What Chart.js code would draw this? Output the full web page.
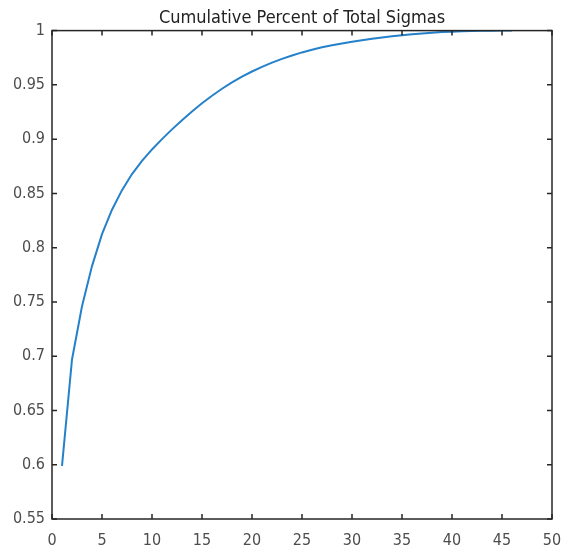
<!DOCTYPE html>
<html>
<head>
<meta charset="utf-8">
<title>Cumulative Percent of Total Sigmas</title>
<script src="https://cdn.jsdelivr.net/npm/chart.js@4.4.1/dist/chart.umd.min.js"></script>
<style>
  html, body { margin: 0; padding: 0; background: #fff; }
  canvas { display: block; }
</style>
</head>
<body>
<canvas id="mycanvas" width="570" height="554"></canvas>
<script>
// number of singular values kept
var components = [1, 2, 3, 4, 5, 6, 7, 8, 9, 10,
  11, 12, 13, 14, 15, 16, 17, 18, 19, 20,
  21, 22, 23, 24, 25, 26, 27, 28, 29, 30,
  31, 32, 33, 34, 35, 36, 37, 38, 39, 40,
  41, 42, 43, 44, 45, 46];

// cumulative share of the total
var cumPercent = [0.599, 0.697, 0.746, 0.783, 0.8125, 0.835, 0.853, 0.8678, 0.880, 0.8905,
  0.900, 0.909, 0.9175, 0.9255, 0.933, 0.940, 0.9464, 0.9522, 0.9575, 0.9623,
  0.9666, 0.9705, 0.974, 0.9771, 0.9799, 0.9824, 0.9846, 0.9865, 0.9882, 0.9897,
  0.9911, 0.9924, 0.9936, 0.9947, 0.9957, 0.9966, 0.9974, 0.9981, 0.9986, 0.999,
  0.9993, 0.9996, 0.9998, 0.9999, 1.0, 1.0];

var xTicks = [0, 5, 10, 15, 20, 25, 30, 35, 40, 45, 50];
var yTicks = [0.55, 0.6, 0.65, 0.7, 0.75, 0.8, 0.85, 0.9, 0.95, 1];

var points = [];
for (var i in components) {
  points.push({x: components[i], y: cumPercent[i]});
}

var tickFont = {family: "'Liberation Sans Narrow', 'Arial Narrow', 'DejaVu Sans Condensed', sans-serif", size: 16};

// matlab style box with inward ticks on all four sides
var boxPlugin = {
  id: 'box',
  afterDraw: function(chart) {
    var ctx = chart.ctx;
    var a = chart.chartArea;
    var sx = chart.scales.x, sy = chart.scales.y;
    var len = 5;
    ctx.save();
    ctx.strokeStyle = '#262626';
    ctx.lineWidth = 1.5;
    ctx.strokeRect(a.left, a.top, a.right - a.left, a.bottom - a.top);
    ctx.beginPath();
    xTicks.forEach(function(v) {
      var px = sx.getPixelForValue(v);
      ctx.moveTo(px, a.bottom); ctx.lineTo(px, a.bottom - len);
      ctx.moveTo(px, a.top); ctx.lineTo(px, a.top + len);
    });
    yTicks.forEach(function(v) {
      var py = sy.getPixelForValue(v);
      ctx.moveTo(a.left, py); ctx.lineTo(a.left + len, py);
      ctx.moveTo(a.right, py); ctx.lineTo(a.right - len, py);
    });
    ctx.stroke();
    ctx.restore();
  }
};

var ctx = document.getElementById('mycanvas');

var lineGraph = new Chart(ctx, {
  type: 'line',
  data: {
    datasets: [{
      label: 'Cumulative Percent',
      data: points,
      borderColor: '#2581C9',
      borderWidth: 2,
      pointRadius: 0,
      fill: false,
      tension: 0
    }]
  },
  options: {
    responsive: false,
    animation: false,
    layout: {padding: {left: 0, right: 18, top: 0, bottom: 0}},
    plugins: {
      legend: {display: false},
      tooltip: {enabled: false},
      title: {
        display: true,
        text: 'Cumulative Percent of Total Sigmas',
        fullSize: false,
        color: '#222',
        font: {family: tickFont.family, size: 18, weight: 'normal'},
        padding: {top: 8, bottom: 1}
      }
    },
    scales: {
      x: {
        type: 'linear',
        min: 0,
        max: 50,
        afterBuildTicks: function(scale) {
          scale.ticks = xTicks.map(function(v) { return {value: v}; });
        },
        afterFit: function(scale) {
          scale.height = 35;
          scale.paddingLeft = 0;
          scale.paddingRight = 0;
        },
        grid: {display: false, drawTicks: false},
        border: {display: false},
        ticks: {
          color: '#4d4d4d',
          font: tickFont,
          padding: 12,
          maxRotation: 0,
          autoSkip: false
        }
      },
      y: {
        type: 'linear',
        min: 0.55,
        max: 1,
        afterBuildTicks: function(scale) {
          scale.ticks = yTicks.map(function(v) { return {value: v}; });
        },
        afterFit: function(scale) {
          scale.width = 52;
          scale.paddingTop = 0;
          scale.paddingBottom = 0;
        },
        grid: {display: false, drawTicks: false},
        border: {display: false},
        ticks: {
          color: '#4d4d4d',
          font: tickFont,
          padding: 7,
          autoSkip: false,
          callback: function(v) { return String(+v.toFixed(2)); }
        }
      }
    }
  },
  plugins: [boxPlugin]
});
</script>
</body>
</html>
